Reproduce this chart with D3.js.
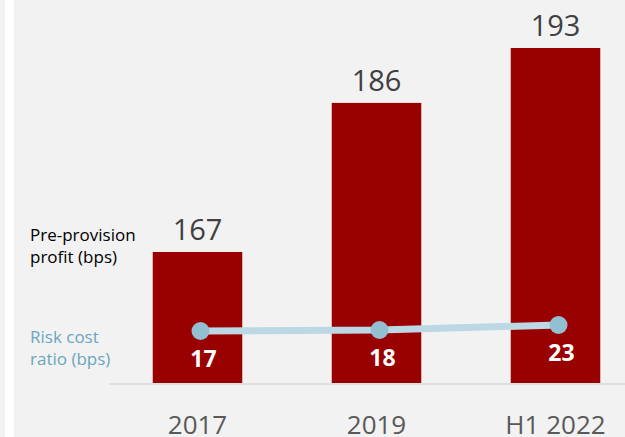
<!DOCTYPE html>
<html>
<head>
<meta charset="utf-8">
<script src="https://cdn.jsdelivr.net/npm/d3@7"></script>
<style>
  html, body { margin: 0; padding: 0; background: #f2f2f2; }
  svg { display: block; font-family: "Open Sans", "Noto Sans", sans-serif; }
</style>
</head>
<body>
<div class="chart"></div>
<script>
var width = 625;
var height = 437;

var periods = ["2017", "2019", "H1 2022"];
var profit = [167, 186, 193];
var riskCost = [17, 18, 23];

var svg = d3.select(".chart")
    .append("svg")
    .attr("width", width)
    .attr("height", height);

svg.append("rect").attr("width", width).attr("height", height).attr("fill", "#f2f2f2");
// white stripe at left edge
svg.append("rect").attr("x", 5).attr("y", 0).attr("width", 9).attr("height", height).attr("fill", "#ffffff");

var baseY = 383;

var x = d3.scaleBand()
    .domain(periods)
    .range([108, 645])
    .paddingInner(0.5)
    .paddingOuter(0.25);

// bars don't start at zero
var y = d3.scaleLinear()
    .domain([150.3, 193])
    .range([baseY, 48]);

var yRisk = d3.scaleLinear()
    .domain([17, 23])
    .range([331, 325]);

var rows = periods.map(function(p, i) {
    return { period: p, profit: profit[i], risk: riskCost[i] };
});

svg.selectAll(".bar")
    .data(rows)
    .enter()
    .append("rect")
    .attr("class", "bar")
    .attr("x", d => x(d.period))
    .attr("width", x.bandwidth())
    .attr("y", d => y(d.profit))
    .attr("height", d => baseY - y(d.profit))
    .attr("fill", "#990000");

svg.selectAll(".bar-label")
    .data(rows)
    .enter()
    .append("text")
    .attr("class", "bar-label")
    .attr("x", d => x(d.period) + x.bandwidth() / 2)
    .attr("y", d => y(d.profit) - 12)
    .attr("text-anchor", "middle")
    .attr("font-size", "29px")
    .attr("fill", "#404040")
    .text(d => d.profit);

// axis line
svg.append("line")
    .attr("x1", 109).attr("x2", width)
    .attr("y1", baseY + 1).attr("y2", baseY + 1)
    .attr("stroke", "#d9d9d9")
    .attr("stroke-width", 1.5);

svg.selectAll(".x-label")
    .data(rows)
    .enter()
    .append("text")
    .attr("class", "x-label")
    .attr("x", d => x(d.period) + x.bandwidth() / 2)
    .attr("y", 434)
    .attr("text-anchor", "middle")
    .attr("font-size", "26px")
    .attr("fill", "#595959")
    .text(d => d.period);

// risk cost line
var cx = d => x(d.period) + x.bandwidth() / 2 + 3;

var line = d3.line()
    .x(cx)
    .y(d => yRisk(d.risk));

svg.append("path")
    .datum(rows)
    .attr("d", line)
    .attr("fill", "none")
    .attr("stroke", "#bcd8e4")
    .attr("stroke-width", 7);

svg.selectAll(".dot")
    .data(rows)
    .enter()
    .append("circle")
    .attr("class", "dot")
    .attr("cx", cx)
    .attr("cy", d => yRisk(d.risk))
    .attr("r", 9)
    .attr("fill", "#93bfd3");

svg.selectAll(".risk-label")
    .data(rows)
    .enter()
    .append("text")
    .attr("class", "risk-label")
    .attr("x", d => cx(d) + 3)
    .attr("y", d => yRisk(d.risk) + 36)
    .attr("text-anchor", "middle")
    .attr("font-size", "23px")
    .attr("font-weight", "bold")
    .attr("fill", "#ffffff")
    .text(d => d.risk);

// left legend texts
var legend = [
    { lines: ["Pre-provision", "profit (bps)"], y: 241, color: "#000000" },
    { lines: ["Risk cost", "ratio (bps)"], y: 343, color: "#6aa6c0" }
];

legend.forEach(function(l) {
    var t = svg.append("text")
        .attr("x", 30)
        .attr("y", l.y)
        .attr("font-size", "17px")
        .attr("fill", l.color);
    l.lines.forEach(function(s, i) {
        t.append("tspan").attr("x", 30).attr("dy", i === 0 ? 0 : 22).text(s);
    });
});
</script>
</body>
</html>
